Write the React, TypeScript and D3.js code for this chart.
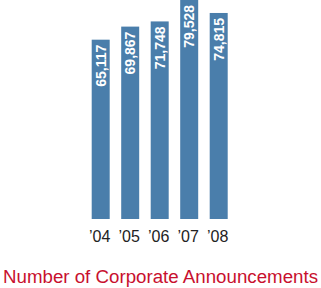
import React from "react";
import * as d3 from "d3";

const years = ["’04", "’05", "’06", "’07", "’08"];
const values = [65117, 69867, 71748, 79528, 74815];
const title = "Number of Corporate Announcements";

export default function App() {
  const W = 321, H = 288;
  const x = d3.scaleBand<string>().domain(years).range([85.8, 233.6]).paddingInner(0.39).paddingOuter(0.2);
  const y = d3.scaleLinear().domain([0, 79528]).range([219, 0]);
  const fmt = d3.format(",");
  const font = "Arial, 'Liberation Sans', Helvetica, sans-serif";
  return (
    <svg width={W} height={H} style={{ position: "absolute", left: 0, top: 0, background: "#fff" }} fontFamily={font}>
      {years.map((yr, i) => {
        const bx = x(yr)!;
        const cx = bx + x.bandwidth() / 2;
        const top = y(values[i]);
        return (
          <g key={yr}>
            <rect x={bx} y={top} width={x.bandwidth()} height={y(0) - top} fill="#4a7eab" />
            <text
              transform={`translate(${cx + 5},${top + 5}) rotate(-90)`}
              textAnchor="end"
              fill="#fff"
              fontSize={14}
              fontWeight="bold"
            >
              {fmt(values[i])}
            </text>
            <text x={cx - 1} y={241.5} textAnchor="middle" fontSize={16} fill="#222">
              {yr}
            </text>
          </g>
        );
      })}
      <text x={3} y={283} fontSize={18} fill="#c8102e" textLength={315} lengthAdjust="spacingAndGlyphs">
        {title}
      </text>
    </svg>
  );
}
